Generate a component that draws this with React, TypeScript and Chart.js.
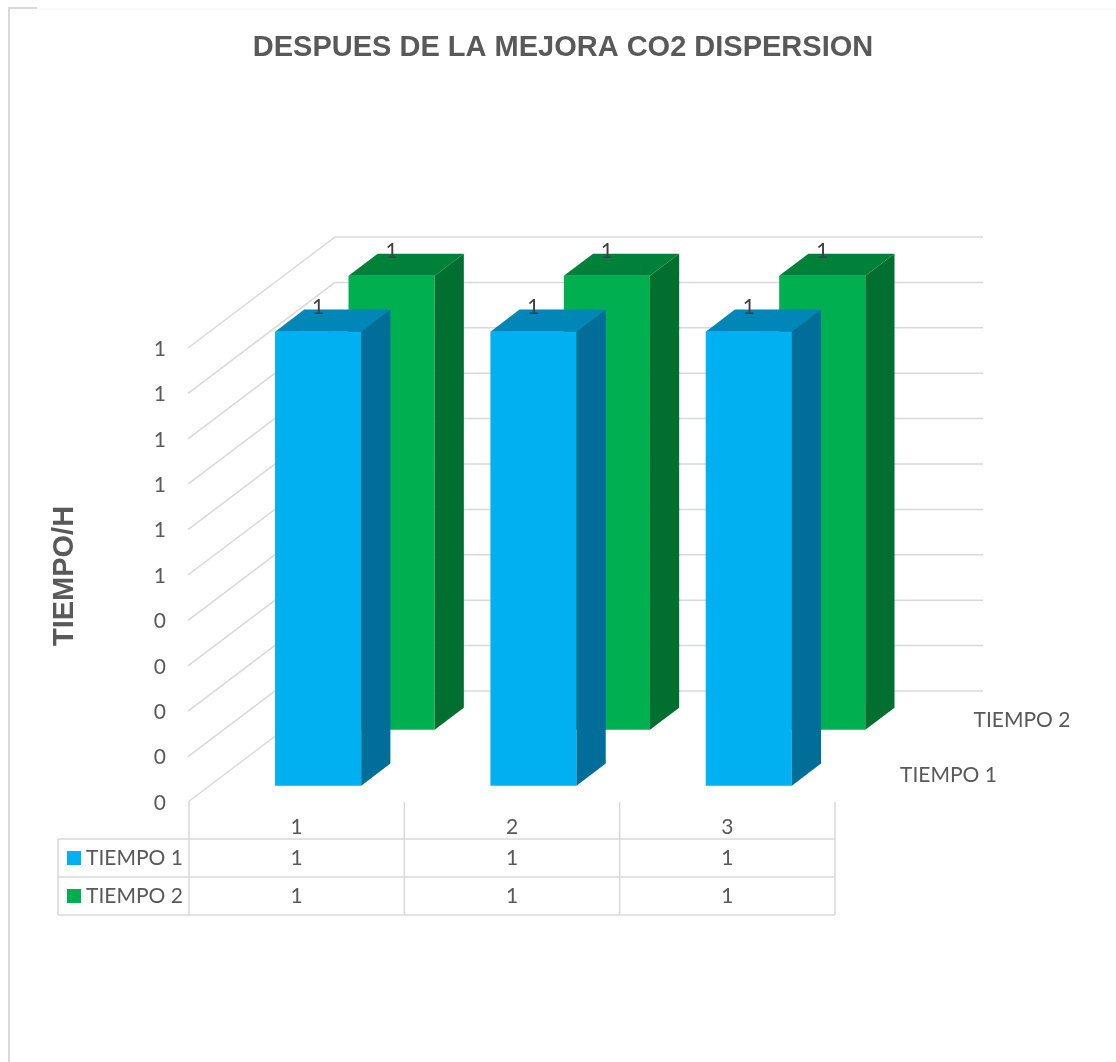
import { useEffect, useRef } from "react";
import { Chart, registerables } from "chart.js";

Chart.register(...registerables);

// ---- data ----
const categories = ["1", "2", "3"];
const seriesNames = ["TIEMPO 1", "TIEMPO 2"];
const tiempo1 = [1, 1, 1];
const tiempo2 = [1, 1, 1];
const titleText = "DESPUES DE LA MEJORA CO2 DISPERSION";
const yAxisTitle = "TIEMPO/H";

// ---- styling ----
const W = 1116;
const H = 1062;
const TEXT_FONT = "Lato, 'Open Sans', sans-serif";
const BOLD_FONT = "'Liberation Sans', Arial, sans-serif";
const GRID = "#d9d9d9";
const TXT = "#595959";

// depth projection of the 3-D box (front plane -> back wall)
const DEPTH_DX = 146;
const DEPTH_DY = -111;

const seriesStyle = [
  { front: "#00b0f0", top: "#0086b7", side: "#006e98", d0: 0.147, d1: 0.347 },
  { front: "#00b050", top: "#008139", side: "#006f2f", d0: 0.65, d1: 0.85 },
];

const proj = (x: number, y: number, d: number): [number, number] => [
  x + d * DEPTH_DX,
  y + d * DEPTH_DY,
];

const poly = (ctx: CanvasRenderingContext2D, pts: [number, number][], fill: string) => {
  ctx.beginPath();
  ctx.moveTo(pts[0][0], pts[0][1]);
  for (let i = 1; i < pts.length; i++) ctx.lineTo(pts[i][0], pts[i][1]);
  ctx.closePath();
  ctx.fillStyle = fill;
  ctx.fill();
};

const line = (ctx: CanvasRenderingContext2D, x1: number, y1: number, x2: number, y2: number, w = 1.5, c = GRID) => {
  ctx.beginPath();
  ctx.moveTo(x1, y1);
  ctx.lineTo(x2, y2);
  ctx.lineWidth = w;
  ctx.strokeStyle = c;
  ctx.stroke();
};

const fmt = (v: number) => String(Math.round(v + 1e-9));

const bar3dPlugin = {
  id: "bar3d",
  beforeDatasetsDraw(chart: any) {
    const ctx: CanvasRenderingContext2D = chart.ctx;
    const xs = chart.scales.x;
    const ys = chart.scales.y;
    const area = chart.chartArea;
    const catW = xs.getPixelForValue(1) - xs.getPixelForValue(0);

    ctx.save();

    // outer frame
    line(ctx, 9, 7, 9, H, 2, "#d9d9d9");
    line(ctx, 8, 8, 37, 8, 2, "#d9d9d9");
    line(ctx, 37, 9, W, 9, 1, "#f6f6f6");

    // title
    ctx.fillStyle = TXT;
    ctx.font = `bold 29px ${BOLD_FONT}`;
    ctx.textAlign = "center";
    ctx.textBaseline = "alphabetic";
    ctx.fillText(titleText, 563, 56);

    // y axis title
    ctx.save();
    ctx.translate(73, 576);
    ctx.rotate(-Math.PI / 2);
    ctx.fillText(yAxisTitle, 0, 0);
    ctx.restore();

    // side wall and back wall grid lines + tick labels
    const ticks = ys.ticks.map((t: any) => t.value);
    ctx.font = `21px ${TEXT_FONT}`;
    ctx.textAlign = "right";
    ctx.textBaseline = "middle";
    for (const v of ticks) {
      const y0 = ys.getPixelForValue(v);
      const [bx, by] = proj(area.left, y0, 1);
      const [rx, ry] = proj(area.right, y0, 1);
      line(ctx, area.left - 1, y0, bx, by);
      line(ctx, bx, by, rx + 2, ry);
      ctx.fillStyle = TXT;
      ctx.fillText(fmt(v), 166, y0 + 1);
    }

    // bars, back row first
    const rows = [tiempo1, tiempo2];
    for (let s = rows.length - 1; s >= 0; s--) {
      const st = seriesStyle[s];
      rows[s].forEach((v, i) => {
        const cx = xs.getPixelForValue(i);
        const w = catW * 0.4;
        const xl = cx - w / 2;
        const xr = cx + w / 2;
        const yb = ys.getPixelForValue(0);
        const yt = ys.getPixelForValue(v);
        poly(ctx, [proj(xl, yt, st.d0), proj(xr, yt, st.d0), proj(xr, yb, st.d0), proj(xl, yb, st.d0)], st.front);
        poly(ctx, [proj(xl, yt, st.d0), proj(xr, yt, st.d0), proj(xr, yt, st.d1), proj(xl, yt, st.d1)], st.top);
        poly(ctx, [proj(xr, yt, st.d0), proj(xr, yt, st.d1), proj(xr, yb, st.d1), proj(xr, yb, st.d0)], st.side);
      });
    }
    // value labels
    ctx.font = `21px ${TEXT_FONT}`;
    ctx.textAlign = "center";
    ctx.textBaseline = "middle";
    ctx.fillStyle = "#404040";
    for (let s = rows.length - 1; s >= 0; s--) {
      const st = seriesStyle[s];
      rows[s].forEach((v, i) => {
        const cx = xs.getPixelForValue(i);
        const [lx] = proj(cx, 0, st.d0);
        const [, ly] = proj(cx, ys.getPixelForValue(v), st.d1);
        ctx.fillText(fmt(v), lx, ly - 2);
      });
    }

    // depth axis labels
    ctx.fillStyle = TXT;
    ctx.textAlign = "left";
    seriesNames.forEach((name, s) => {
      const st = seriesStyle[s];
      const [ex, ey] = proj(area.right, area.bottom, (st.d0 + st.d1) / 2);
      ctx.fillText(name, ex + 29, ey + 1);
    });

    // data table
    const rowTop = area.bottom + 37;
    const rowH = 38;
    const tableLeft = 58;
    for (let r = 0; r <= rows.length; r++) {
      line(ctx, tableLeft, rowTop + r * rowH, area.right, rowTop + r * rowH);
    }
    line(ctx, tableLeft, rowTop, tableLeft, rowTop + rows.length * rowH);
    for (let i = 0; i <= categories.length; i++) {
      const x = area.left + i * catW;
      line(ctx, x, area.bottom, x, rowTop + rows.length * rowH);
    }
    ctx.textAlign = "center";
    ctx.fillStyle = TXT;
    categories.forEach((c, i) => {
      ctx.fillText(c, xs.getPixelForValue(i), area.bottom + 25);
    });
    rows.forEach((vals, r) => {
      const cy = rowTop + r * rowH + rowH / 2;
      vals.forEach((v, i) => {
        ctx.textAlign = "center";
        ctx.fillStyle = TXT;
        ctx.fillText(fmt(v), xs.getPixelForValue(i), cy);
      });
      ctx.fillStyle = seriesStyle[r].front;
      ctx.fillRect(67, cy - 7, 14, 14);
      ctx.fillStyle = TXT;
      ctx.textAlign = "left";
      ctx.fillText(seriesNames[r], 86, cy);
    });

    ctx.restore();
  },
};

export default function App() {
  const ref = useRef<HTMLCanvasElement | null>(null);
  useEffect(() => {
    if (!ref.current) return;
    const chart = new Chart(ref.current, {
      type: "bar",
      data: {
        labels: categories,
        datasets: [
          { label: seriesNames[0], data: tiempo1, backgroundColor: "rgba(0,0,0,0)" },
          { label: seriesNames[1], data: tiempo2, backgroundColor: "rgba(0,0,0,0)" },
        ],
      },
      options: {
        responsive: false,
        animation: false,
        layout: { padding: { left: 189, right: W - 835, top: 348, bottom: H - 802 } },
        plugins: { legend: { display: false }, title: { display: false }, tooltip: { enabled: false } },
        scales: {
          x: { display: false },
          y: { display: false, min: 0, max: 1, ticks: { stepSize: 0.1 } },
        },
      },
      plugins: [bar3dPlugin],
    });
    return () => chart.destroy();
  }, []);
  return (
    <div style={{ position: "absolute", left: 0, top: 0, width: W, height: H, background: "#fff" }}>
      <canvas ref={ref} width={W} height={H} style={{ width: W, height: H, display: "block" }} />
    </div>
  );
}
